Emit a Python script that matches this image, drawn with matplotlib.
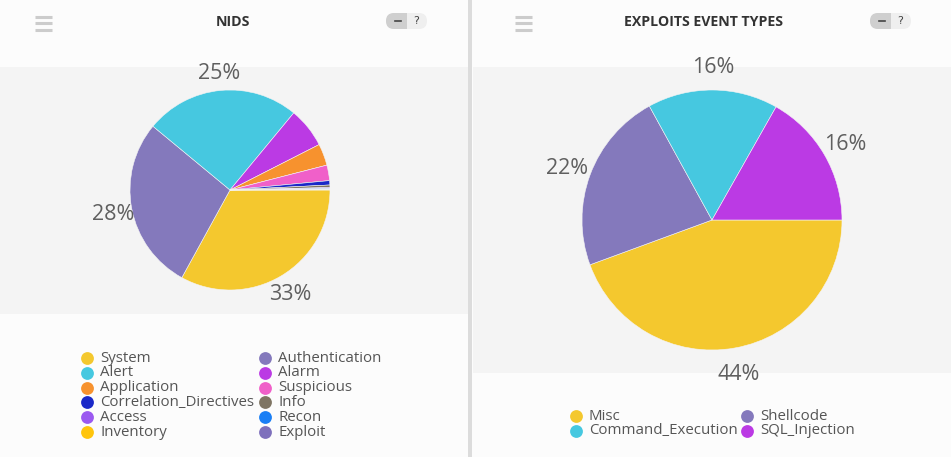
import matplotlib.pyplot as plt
from matplotlib.patches import Rectangle, FancyBboxPatch
import numpy as np

# NIDS event categories (percent of events)
nids_labels = ['System', 'Authentication', 'Alert', 'Alarm', 'Application',
               'Suspicious', 'Correlation_Directives', 'Info', 'Access',
               'Recon', 'Inventory', 'Exploit']
nids_values = [33.0, 28.0, 25.0, 6.5, 3.5, 2.5, 0.7, 0.4, 0.15, 0.1, 0.1, 0.05]
nids_colors = ['#F4C82E', '#8479BC', '#46C8E0', '#BB3AE4', '#F7922E',
               '#F060C9', '#1A28C8', '#7F7563', '#9B59F0', '#1A7FF5',
               '#FFC50D', '#7E70BC']
nids_text = ['33%', '28%', '25%', '', '', '', '', '', '', '', '', '']

# exploit event types
expl_labels = ['Misc', 'Shellcode', 'Command_Execution', 'SQL_Injection']
expl_values = [44.4, 22.6, 16.2, 16.8]
expl_colors = ['#F4C82E', '#8479BC', '#46C8E0', '#BB3AE4']
expl_text = ['44%', '22%', '16%', '16%']

W, H = 951, 457
fig = plt.figure(figsize=(W / 100, H / 100), dpi=100)
fig.patch.set_facecolor('#fcfcfc')

# background canvas in pixel coords
bg = fig.add_axes([0, 0, 1, 1])
bg.set_xlim(0, W)
bg.set_ylim(H, 0)
bg.axis('off')
bg.add_patch(Rectangle((0, 67), 468, 247, color='#f4f4f4', lw=0))
bg.add_patch(Rectangle((473, 67), 478, 306, color='#f4f4f4', lw=0))
bg.add_patch(Rectangle((468, 0), 4, H, color='#dcdcdc', lw=0))

font = 'Open Sans'


def header(x0, cx, title, bx):
    for yy in (16.5, 23, 29.5):
        bg.plot([x0, x0 + 17], [yy, yy], color='#cccccc', lw=2.2, solid_capstyle='butt')
    bg.text(cx, 22, title, ha='center', va='center', fontsize=10.2,
            fontweight='bold', color='#333333', family=font)
    bg.add_patch(FancyBboxPatch((bx, 13), 41, 16, boxstyle='round,pad=0,rounding_size=8',
                                fc='#efefef', ec='none'))
    bg.add_patch(FancyBboxPatch((bx, 13), 21, 16, boxstyle='round,pad=0,rounding_size=8',
                                fc='#cfcfcf', ec='none'))
    bg.add_patch(Rectangle((bx + 12, 13), 9, 16, fc='#cfcfcf', ec='none'))
    bg.plot([bx + 9, bx + 15], [21, 21], color='#444444', lw=1.2)
    bg.text(bx + 30, 21, '?', ha='center', va='center', fontsize=8, color='#444444')


header(35, 233, 'NIDS', 386)
header(515, 703, 'EXPLOITS EVENT TYPES', 870)


def draw_pie(rect, values, colors, texts):
    ax = fig.add_axes(rect)
    wedges, _ = ax.pie(values, colors=colors, startangle=0, counterclock=False,
                       radius=1, wedgeprops=dict(linewidth=0.4, edgecolor='#f4f4f4'))
    for w, t in zip(wedges, texts):
        if not t:
            continue
        a = np.deg2rad((w.theta1 + w.theta2) / 2)
        ax.text(1.19 * np.cos(a), 1.19 * np.sin(a) - 0.02, t, ha='center', va='center',
                fontsize=15.5, color='#5f5f5f', family=font, clip_on=False)
    ax.set_xlim(-1, 1)
    ax.set_ylim(-1, 1)
    return ax


draw_pie([130 / W, (H - 290) / H, 200 / W, 200 / H], nids_values, nids_colors, nids_text)
draw_pie([582 / W, (H - 350) / H, 260 / W, 260 / H], expl_values, expl_colors, expl_text)


def legend(labels, colors, x0, colw, y0, rowh):
    for i, (lab, c) in enumerate(zip(labels, colors)):
        x = x0 + (i % 2) * colw
        y = y0 + (i // 2) * rowh
        bg.scatter([x], [y], s=85, color=c, lw=0)
        bg.text(x + 13, y, lab, ha='left', va='center', fontsize=10.8,
                color='#555555', family=font)


legend(nids_labels, nids_colors, 87, 178, 358, 14.8)
legend(expl_labels, expl_colors, 576, 171, 416, 15)

fig.savefig('out.png', dpi=100, facecolor=fig.get_facecolor())
